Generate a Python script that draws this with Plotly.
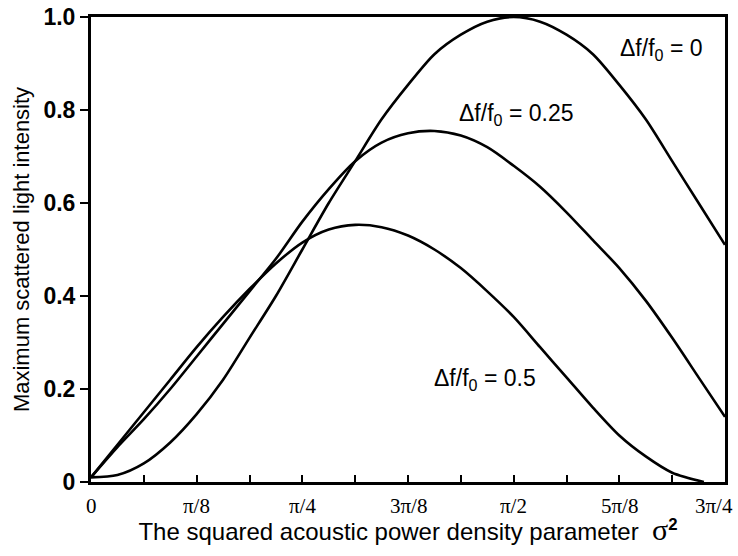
import plotly.graph_objects as go

# x in units of pi/16
x_a = [0, 0.5, 1, 1.5, 2, 2.5, 3, 3.5, 4, 4.5, 5, 5.5, 6, 6.5, 7, 7.5, 8, 8.5, 9, 9.5, 10, 10.5, 11, 11.5, 12]
y_a = [0.01, 0.015, 0.04, 0.085, 0.146, 0.22, 0.31, 0.40, 0.50, 0.60, 0.69, 0.78, 0.854, 0.92, 0.962, 0.99, 1.0, 0.99, 0.962, 0.92, 0.854, 0.78, 0.69, 0.60, 0.51]

x_b = [0, 0.5, 1, 1.5, 2, 2.5, 3, 3.5, 4, 4.5, 5, 5.5, 6, 6.5, 7, 7.5, 8, 8.5, 9, 9.5, 10, 10.5, 11, 11.5, 12]
y_b = [0.01, 0.075, 0.135, 0.20, 0.27, 0.34, 0.41, 0.48, 0.56, 0.63, 0.69, 0.73, 0.75, 0.755, 0.745, 0.72, 0.68, 0.635, 0.58, 0.52, 0.46, 0.39, 0.31, 0.225, 0.14]

x_c = [0, 0.5, 1, 1.5, 2, 2.5, 3, 3.5, 4, 4.5, 5, 5.5, 6, 6.5, 7, 7.5, 8, 8.5, 9, 9.5, 10, 10.5, 11, 11.6]
y_c = [0.01, 0.08, 0.15, 0.22, 0.29, 0.355, 0.415, 0.47, 0.515, 0.543, 0.553, 0.548, 0.53, 0.50, 0.46, 0.41, 0.355, 0.29, 0.225, 0.16, 0.10, 0.055, 0.02, 0.0]

x_tickvals = [0, 2, 4, 6, 8, 10, 12]
x_ticktext = ["0", "\u03c0/8", "\u03c0/4", "3\u03c0/8", "\u03c0/2", "5\u03c0/8", "3\u03c0/4"]
x_minor = [1, 3, 5, 7, 9, 11]
y_tickvals = [0, 0.2, 0.4, 0.6, 0.8, 1.0]
y_ticktext = ["0", "0.2", "0.4", "0.6", "0.8", "1.0"]

labels = ["\u0394f/f<sub>0</sub> = 0", "\u0394f/f<sub>0</sub> = 0.25", "\u0394f/f<sub>0</sub> = 0.5"]

fig = go.Figure()
line = dict(color="black", width=2.6, shape="spline", smoothing=0.8)
for xs, ys in [(x_a, y_a), (x_b, y_b), (x_c, y_c)]:
    fig.add_trace(go.Scatter(x=xs, y=ys, mode="lines", line=line, showlegend=False, hoverinfo="skip"))

ann_pos = [(10.8, 0.93), (8.05, 0.79), (7.45, 0.22)]
for (ax, ay), t in zip(ann_pos, labels):
    fig.add_annotation(x=ax, y=ay, xref="x", yref="y", text=t, showarrow=False,
                       font=dict(family="Liberation Sans, Arial", size=23, color="black"),
                       xanchor="center", yanchor="middle")

# x tick labels (the last one is kept inside the page, as in the reference)
for i, (tv, tt) in enumerate(zip(x_tickvals, x_ticktext)):
    last = i == len(x_tickvals) - 1
    fig.add_annotation(x=tv, y=0, xref="x", yref="paper", text=tt, showarrow=False,
                       font=dict(family="Liberation Serif, Times New Roman", size=21, color="black"),
                       xanchor="right" if last else "center", yanchor="middle",
                       xshift=10 if last else 0, yshift=-24)

fig.update_layout(
    width=738, height=556,
    margin=dict(l=91, r=13, t=4, b=74),
    paper_bgcolor="white", plot_bgcolor="white",
    font=dict(family="Liberation Sans, Arial", color="black"),
)
fig.update_xaxes(
    range=[0, 12], tickvals=x_tickvals, showticklabels=False,
    ticks="inside", ticklen=7, tickwidth=2, tickcolor="black",
    minor=dict(tickvals=x_minor, ticks="inside", ticklen=7, tickwidth=2, tickcolor="black"),
    showline=True, linewidth=3, linecolor="black", mirror=True,
    showgrid=False, zeroline=False,
    title=dict(text="The squared acoustic power density parameter  <span style='font-family:Liberation Serif;font-size:30px'>\u03c3</span><sup><b>2</b></sup>",
               font=dict(size=24, family="Liberation Sans, Arial"), standoff=40),
)
fig.update_yaxes(
    range=[0, 1.0], tickvals=y_tickvals, ticktext=y_ticktext,
    tickfont=dict(family="Liberation Sans, Arial", size=23, color="black", weight="bold"),
    ticks="outside", ticklen=8, tickwidth=2, tickcolor="black",
    ticklabeloverflow="allow",
    showline=True, linewidth=3, linecolor="black", mirror=True,
    showgrid=False, zeroline=False,
    title=dict(text="Maximum scattered light intensity", font=dict(size=22, family="Liberation Sans, Arial"), standoff=8),
)
fig.write_html("out.html", config={"displayModeBar": False},
               post_script="document.body.style.margin='0';document.body.style.overflow='hidden';")
